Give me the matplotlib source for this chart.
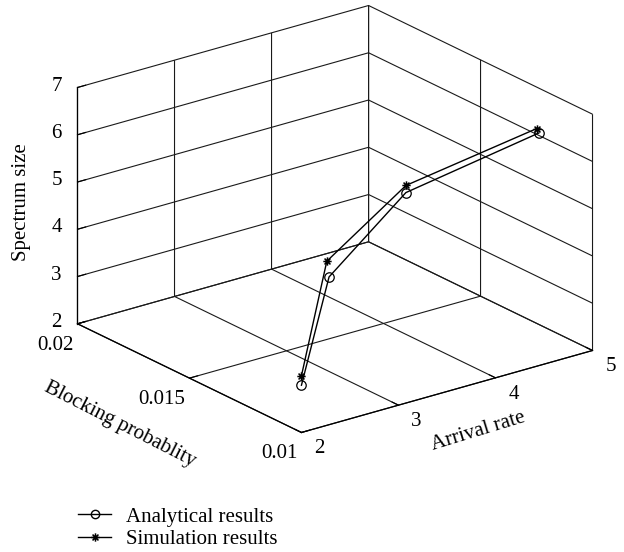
import matplotlib
matplotlib.use("Agg")
import matplotlib.pyplot as plt
from matplotlib.lines import Line2D
from matplotlib.path import Path
from mpl_toolkits.mplot3d import proj3d

# ---- data ----
arrival_rate = [2, 3, 4, 5]
blocking_analytical = [0.0100, 0.0131, 0.0140, 0.0124]
spectrum_analytical = [3.0, 4.0, 5.0, 6.05]
blocking_simulation = [0.0100, 0.0132, 0.0140, 0.0125]
spectrum_simulation = [3.2, 4.31, 5.15, 6.12]

x_ticks = [2, 3, 4, 5]
y_ticks = [0.01, 0.015, 0.02]
y_ticklabels = ["0.01", "0.015", "0.02"]
z_ticks = [2, 3, 4, 5, 6, 7]

FS = 15
plt.rcParams['font.family'] = ['Liberation Serif', 'DejaVu Serif']
plt.rcParams['grid.color'] = '0.1'
plt.rcParams['grid.linewidth'] = 0.8
plt.rcParams['grid.linestyle'] = '-'

W, H = 624, 552
fig = plt.figure(figsize=(W / 100, H / 100), dpi=100)
S = 562
cx, cy = 335, 552 - 219
left = cx - 0.5135 * S
bottom = cy - 0.5135 * S
ax = fig.add_axes([left / W, bottom / H, S / W, S / H], projection='3d', proj_type='ortho')
ax.view_init(elev=21.7, azim=-127.3)
ax.set_box_aspect((1, 1.01, 0.695))

# asterisk marker
ast = Path([(-1, 0), (1, 0), (0, -1), (0, 1), (-0.71, -0.71), (0.71, 0.71), (-0.71, 0.71), (0.71, -0.71)],
           [Path.MOVETO, Path.LINETO] * 4)

ax.plot(arrival_rate, blocking_analytical, spectrum_analytical, color='k', lw=1.0,
        marker='o', ms=6.8, mfc='none', mec='k', mew=0.9)
ax.plot(arrival_rate, blocking_simulation, spectrum_simulation, color='k', lw=1.0,
        marker=ast, ms=6, mfc='none', mec='k', mew=1.1)

xmin, xmax = 2, 5
ymin, ymax = 0.01, 0.02
zmin, zmax = 2, 7
ax.set_xlim(xmin, xmax)
ax.set_ylim(ymin, ymax)
ax.set_zlim(zmin, zmax)
ax.set_xticks(x_ticks)
ax.set_yticks(y_ticks)
ax.set_zticks(z_ticks)

for axis in (ax.xaxis, ax.yaxis, ax.zaxis):
    axis.set_pane_color((1, 1, 1, 0))
    axis.pane.set_edgecolor((1, 1, 1, 0))
    axis.line.set_color('k')
    axis.line.set_linewidth(0.9)
    axis._axinfo['tick']['inward_factor'] = 0.0
    axis._axinfo['tick']['outward_factor'] = 0.35
    axis._axinfo['grid']['color'] = '0.1'
    axis._axinfo['grid']['linewidth'] = 0.8
    axis.set_tick_params(labelbottom=False, labelleft=False, labeltop=False, labelright=False,
                         colors='k', width=0.8)
    axis.label.set_visible(False)
    axis.offsetText.set_visible(False)

# tick labels: project the 3D tick positions through the axes' own projection
M = ax.get_proj()


def put(x, y, z, s, **kw):
    px, py, _ = proj3d.proj_transform(x, y, z, M)
    ax.text2D(px, py, s, transform=ax.transData, fontsize=FS, **kw)


for xv in x_ticks:
    put(xv, ymin - 0.0008, zmin - 0.16, f"{xv:g}", ha='center', va='center')
for yv, lab in zip(y_ticks, y_ticklabels):
    put(xmin - 0.04, yv, zmin - 0.43, lab, ha='right', va='center')
for zv in z_ticks:
    put(xmin, ymax + 0.0007, zv - 0.13, f"{zv:g}", ha='right', va='center')

fig.text(22 / W, 1 - 202 / H, "Spectrum size", rotation=90, ha='center', va='center', fontsize=FS)
fig.text(120 / W, 1 - 425 / H, "Blocking probablity", rotation=-27, ha='center', va='center',
         fontsize=FS, rotation_mode='anchor')
fig.text(478 / W, 1 - 431 / H, "Arrival rate", rotation=17, ha='center', va='center',
         fontsize=FS, rotation_mode='anchor')

handles = [
    Line2D([], [], color='k', lw=1.0, marker='o', ms=6, mfc='none', mec='k'),
    Line2D([], [], color='k', lw=1.0, marker=ast, ms=6, mfc='none', mec='k', mew=1.1),
]
fig.legend(handles, ["Analytical results", "Simulation results"], loc='upper left',
           bbox_to_anchor=(78 / W, 1 - 507 / H), frameon=False, fontsize=FS,
           handlelength=1.6, handletextpad=0.7, labelspacing=0.15, borderaxespad=0, borderpad=0)

fig.savefig("out.png", dpi=100)
